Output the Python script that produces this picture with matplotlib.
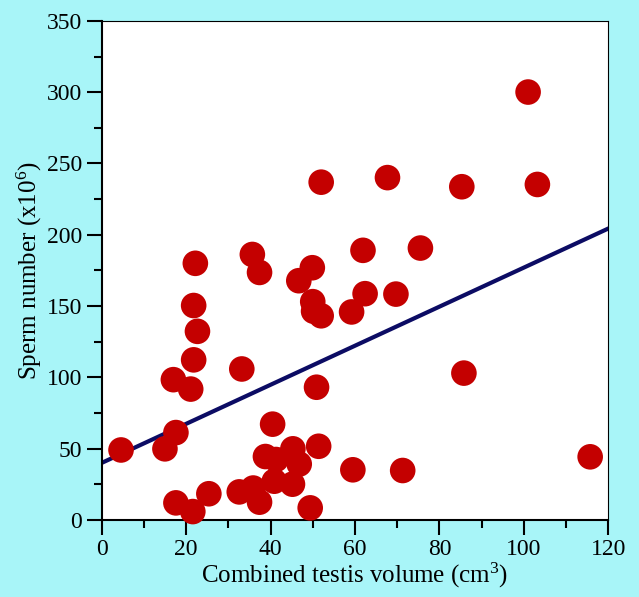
import matplotlib
matplotlib.use("Agg")
import matplotlib.pyplot as plt
import numpy as np

# testis volume (cm3) and sperm number (x10^6)
volume = [4.6, 15.0, 17.6, 17.0, 21.1, 21.8, 22.7, 21.8, 22.2, 17.6,
          21.6, 25.4, 32.6, 35.9, 37.4, 33.2, 35.7, 37.4, 40.5, 38.8,
          41.3, 40.9, 45.3, 46.8, 45.2, 49.4, 46.7, 49.9, 50.0, 50.2,
          52.0, 52.0, 50.9, 51.4, 59.2, 59.5, 61.9, 62.4, 67.7, 69.7,
          71.3, 75.5, 85.3, 85.8, 101.0, 103.2, 115.7]
sperm = [49.1, 49.9, 61.3, 98.4, 91.8, 112.3, 132.3, 150.4, 180.0, 12.0,
         5.9, 18.4, 19.7, 22.4, 12.5, 105.9, 186.2, 173.6, 67.2, 44.5,
         42.4, 27.2, 49.9, 39.2, 25.1, 8.5, 167.8, 176.9, 153.1, 146.4,
         143.2, 236.9, 93.1, 51.7, 145.9, 35.2, 189.1, 158.7, 240.1, 158.4,
         34.7, 190.7, 233.7, 103.0, 300.1, 235.3, 44.3]

# regression line as drawn in the figure
fit_intercept = 40.0
fit_slope = 1.37
fit_range = [0.5, 120]

bg = "#a8f5f8"
plt.rcParams["font.family"] = ["Liberation Serif", "DejaVu Serif"]
plt.rcParams["mathtext.fontset"] = "custom"
plt.rcParams["mathtext.rm"] = "Liberation Serif"
plt.rcParams["mathtext.it"] = "Liberation Serif:italic"

fig = plt.figure(figsize=(6.39, 5.97), dpi=100, facecolor=bg)
ax = fig.add_axes([0.159, 0.129, 0.793, 0.836])
ax.set_facecolor("white")

ax.scatter(volume, sperm, s=340, color="#c40000", edgecolors="none", zorder=3,
           clip_on=False)
xl = np.array(fit_range)
ax.plot(xl, fit_intercept + fit_slope * xl, color="#0c0c64", linewidth=3,
        zorder=2)

ax.set_xlim(0, 120)
ax.set_ylim(0, 350)
ax.set_xticks(np.arange(0, 121, 20))
ax.set_xticks(np.arange(10, 120, 20), minor=True)
ax.set_yticks(np.arange(0, 351, 50))
ax.set_yticks(np.arange(25, 350, 50), minor=True)

ax.tick_params(axis="both", which="major", direction="out", length=11,
               width=1.5, labelsize=17, color="black", pad=3)
ax.tick_params(axis="both", which="minor", direction="out", length=5.5,
               width=1.5)
for side in ["left", "bottom"]:
    ax.spines[side].set_linewidth(1.5)
for side in ["top", "right"]:
    ax.spines[side].set_linewidth(0.8)

ax.set_xlabel("Combined testis volume (cm$^3$)", fontsize=18, labelpad=0)
ax.set_ylabel("Sperm number (x10$^6$)", fontsize=18, labelpad=2)

fig.savefig("out.png", dpi=100, facecolor=bg)
